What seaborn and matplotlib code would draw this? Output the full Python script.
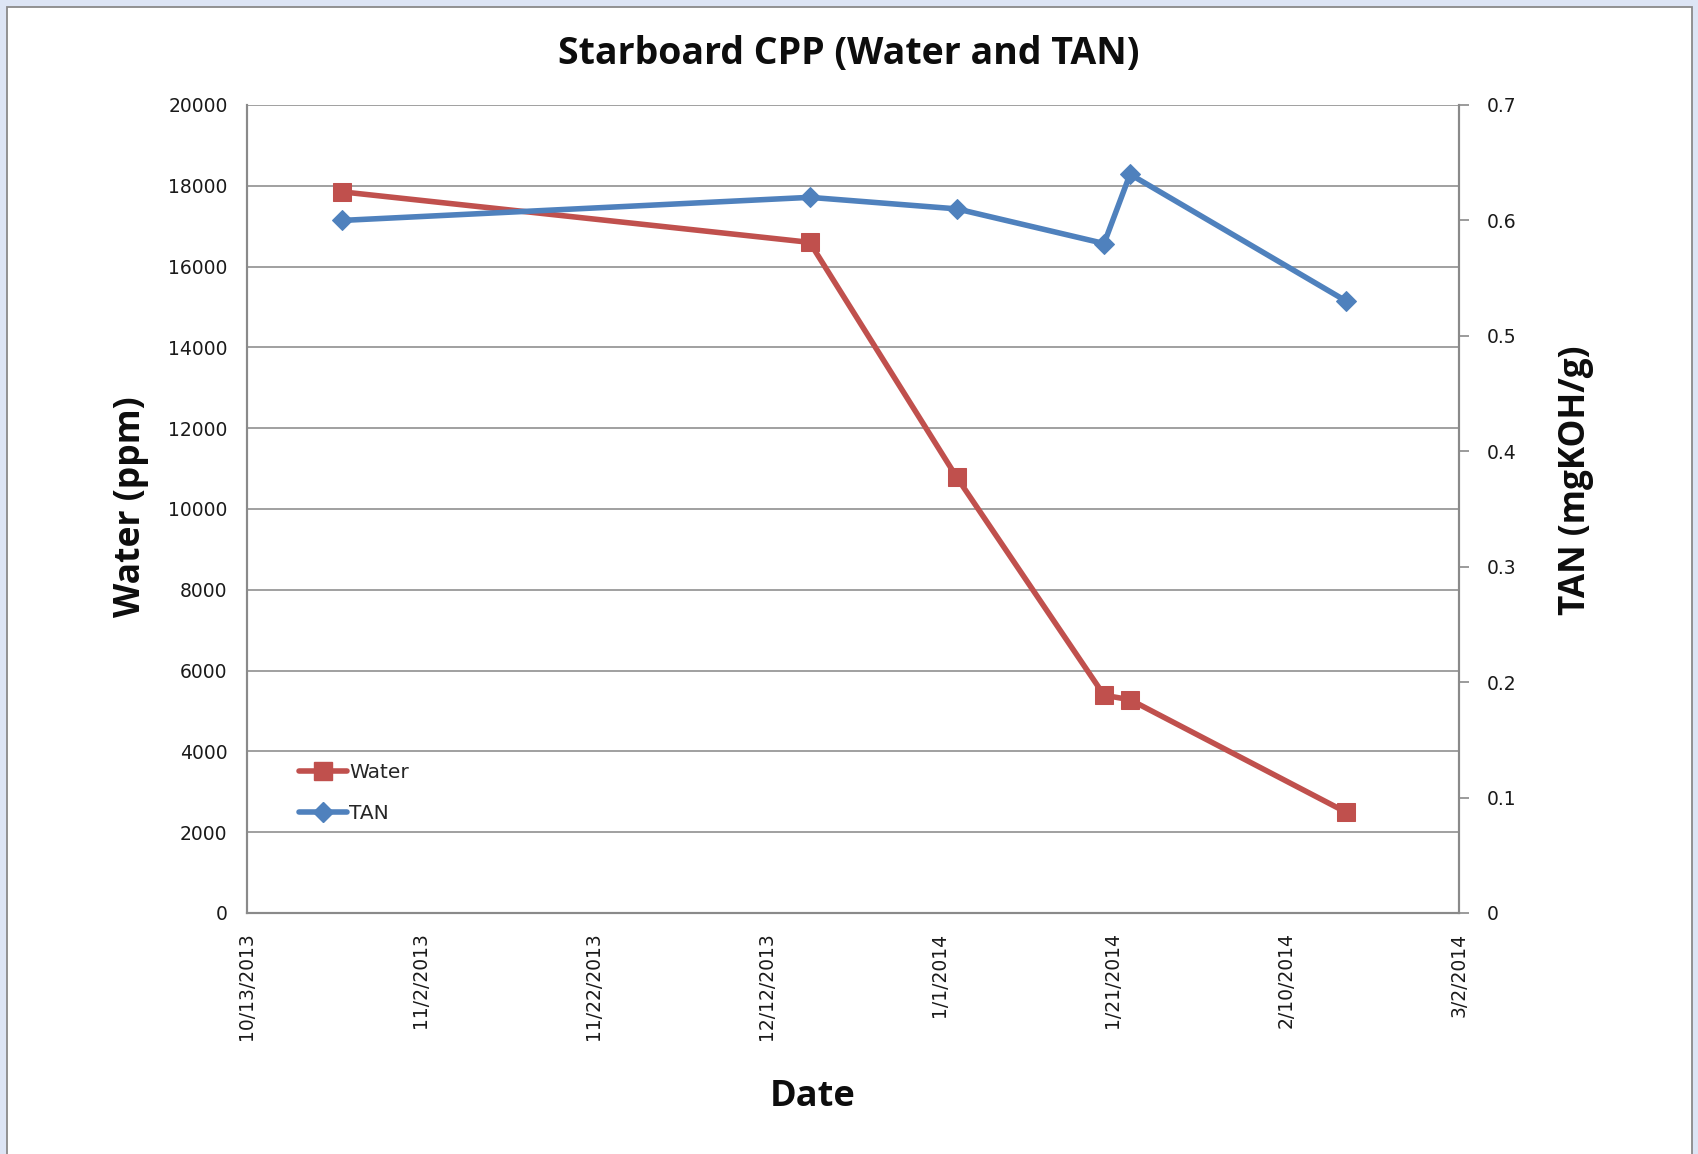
import matplotlib
matplotlib.use('Agg')
import matplotlib.pyplot as plt
from matplotlib.patches import Rectangle
from matplotlib.lines import Line2D
import seaborn as sns
import pandas as pd

# ---- data ----
dates = ['2013-10-24', '2013-12-17', '2014-01-03', '2014-01-20', '2014-01-23', '2014-02-17']
water = [17850, 16600, 10780, 5390, 5280, 2490]
tan = [0.60, 0.62, 0.61, 0.58, 0.64, 0.53]
x_tick_dates = ['2013-10-13', '2013-11-02', '2013-11-22', '2013-12-12',
                '2014-01-01', '2014-01-21', '2014-02-10', '2014-03-02']
x_tick_labels = ['10/13/2013', '11/2/2013', '11/22/2013', '12/12/2013',
                 '1/1/2014', '1/21/2014', '2/10/2014', '3/2/2014']
water_ticks = [0, 2000, 4000, 6000, 8000, 10000, 12000, 14000, 16000, 18000, 20000]
tan_ticks = [0, 0.1, 0.2, 0.3, 0.4, 0.5, 0.6, 0.7]
tan_tick_labels = ['0', '0.1', '0.2', '0.3', '0.4', '0.5', '0.6', '0.7']

df = pd.DataFrame({'Date': pd.to_datetime(dates), 'Water': water, 'TAN': tan})

sns.set_theme(style='white')
plt.rcParams['font.family'] = ['DejaVu Sans']

W, H = 1698, 1154
fig = plt.figure(figsize=(W / 100, H / 100), dpi=100)
fig.patch.set_facecolor('#dde5f5')
fig.patches.append(Rectangle((7 / W, -0.01), (1692 - 7) / W, 1 - 7 / H + 0.01,
                             transform=fig.transFigure, facecolor='white',
                             edgecolor='#8a8a8a', lw=1.3, zorder=-5))

L, R, T, B = 247, 1459, 105, 913
ax = fig.add_axes([L / W, 1 - B / H, (R - L) / W, (B - T) / H])
ax2 = ax.twinx()

red = '#C0504D'
blue = '#4F81BD'
LW = 4.0

sns.lineplot(data=df, x='Date', y='Water', ax=ax, color=red, lw=LW,
             marker='s', markersize=12.5, markeredgecolor=red, legend=False)
sns.lineplot(data=df, x='Date', y='TAN', ax=ax2, color=blue, lw=LW,
             marker='D', markersize=10.5, markeredgecolor=blue, legend=False)

xt = pd.to_datetime(x_tick_dates)
ax.set_xlim(xt[0], xt[-1])
ax.set_xticks(xt)
ax.set_xticklabels(x_tick_labels, rotation=90, fontsize=13.5, color='#1a1a1a')
ax.set_ylim(0, 20000)
ax.set_yticks(water_ticks)
ax.set_yticklabels([str(v) for v in water_ticks], fontsize=13.5, color='#1a1a1a')
ax2.set_ylim(0, 0.7)
ax2.set_yticks(tan_ticks)
ax2.set_yticklabels(tan_tick_labels, fontsize=13.5, color='#1a1a1a')

ax.yaxis.grid(True, color='#a0a0a0', lw=1.4)
ax.set_axisbelow(True)
for a in (ax, ax2):
    for s in a.spines.values():
        s.set_color('#8a8a8a')
        s.set_linewidth(1.5)
    a.spines['top'].set_visible(False)
ax.tick_params(axis='y', length=0, pad=14, left=False)
ax.tick_params(axis='x', length=0, pad=14, bottom=False)
ax2.tick_params(axis='y', length=7, width=1.2, color='#8a8a8a', pad=13, right=True)

ax.set_xlabel('')
ax.set_ylabel('')
ax2.set_ylabel('')

bold = dict(family='Open Sans', weight='bold', color='#0d0d0d')
fig.text(849 / W, 1 - 54 / H, 'Starboard CPP (Water and TAN)', ha='center', va='center',
         fontsize=27, **bold)
fig.text(813 / W, 1 - 1097 / H, 'Date', ha='center', va='center', fontsize=26, **bold)
fig.text(131 / W, 1 - 507 / H, 'Water (ppm)', ha='center', va='center', rotation=90,
         fontsize=25.6, **bold)
fig.text(1576 / W, 1 - 480 / H, 'TAN (mgKOH/g)', ha='center', va='center', rotation=90,
         fontsize=25.3, **bold)

handles = [Line2D([], [], color=red, lw=LW, marker='s', markersize=12.5),
           Line2D([], [], color=blue, lw=LW, marker='D', markersize=10.5)]
leg = ax2.legend(handles, ['Water', 'TAN'], loc='center left',
                 bbox_to_anchor=(289 / W, 1 - 793 / H), bbox_transform=fig.transFigure,
                 frameon=False, fontsize=14.5, handlelength=2.4, handletextpad=0.1,
                 labelspacing=1.05, borderpad=0)

fig.savefig('out.png', dpi=100, facecolor=fig.get_facecolor())
